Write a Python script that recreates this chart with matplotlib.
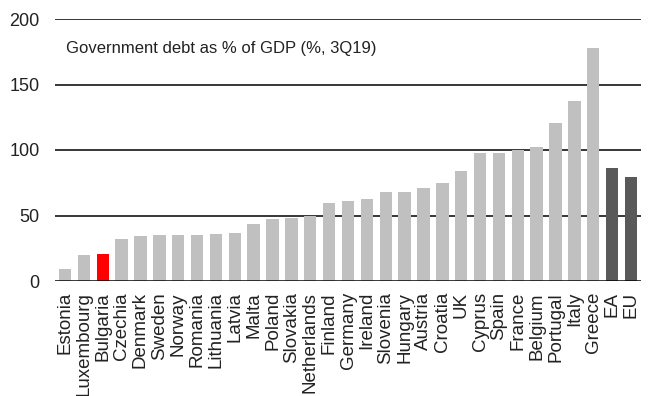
import matplotlib
matplotlib.use("Agg")
import matplotlib.pyplot as plt

countries = ["Estonia", "Luxembourg", "Bulgaria", "Czechia", "Denmark", "Sweden", "Norway",
             "Romania", "Lithuania", "Latvia", "Malta", "Poland", "Slovakia", "Netherlands",
             "Finland", "Germany", "Ireland", "Slovenia", "Hungary", "Austria", "Croatia", "UK",
             "Cyprus", "Spain", "France", "Belgium", "Portugal", "Italy", "Greece", "EA", "EU"]
debt = [9.0, 20.0, 20.5, 32.3, 34.1, 35.1, 35.1,
        35.1, 35.9, 36.6, 43.3, 47.6, 48.1, 49.9,
        59.3, 61.1, 62.3, 67.7, 67.7, 71.0, 74.6, 84.2,
        97.7, 97.7, 100.3, 102.3, 120.6, 137.2, 178.1, 86.0, 79.4]
yticks = [0, 50, 100, 150, 200]
title = "Government debt as % of GDP (%, 3Q19)"

plt.rcParams['font.family'] = ['Liberation Sans', 'DejaVu Sans']

colors = []
for c in countries:
    if c == "Bulgaria":
        colors.append("#FF0000")
    elif c in ("EA", "EU"):
        colors.append("#595959")
    else:
        colors.append("#C0C0C0")

fig = plt.figure(figsize=(6.48, 3.96), dpi=100)
ax = fig.add_axes([55/648, (396-281)/396, (641-55)/648, (281-19)/396])

x = list(range(len(countries)))
ax.bar(x, debt, width=0.66, color=colors, zorder=2)

for t in yticks[1:]:
    ax.axhline(t, color="black", lw=1.1, zorder=1)
ax.axhline(0, color="black", lw=1.8, zorder=3)

ax.set_xlim(-0.53, len(countries) - 0.47)
ax.set_ylim(0, 200)
ax.set_yticks(yticks)
ax.set_yticklabels([str(t) for t in yticks], fontsize=13, color="#222222")
ax.set_xticks(x)
ax.set_xticklabels(countries, rotation=90, fontsize=13.5, color="#222222")
ax.tick_params(axis="both", length=0)
ax.tick_params(axis="y", pad=11)
ax.tick_params(axis="x", pad=8)
for s in ax.spines.values():
    s.set_visible(False)

ax.text(66/648, (396-48)/396, title, transform=fig.transFigure, fontsize=12,
        va="center", ha="left", color="#222222")

fig.savefig("out.png", dpi=100)
